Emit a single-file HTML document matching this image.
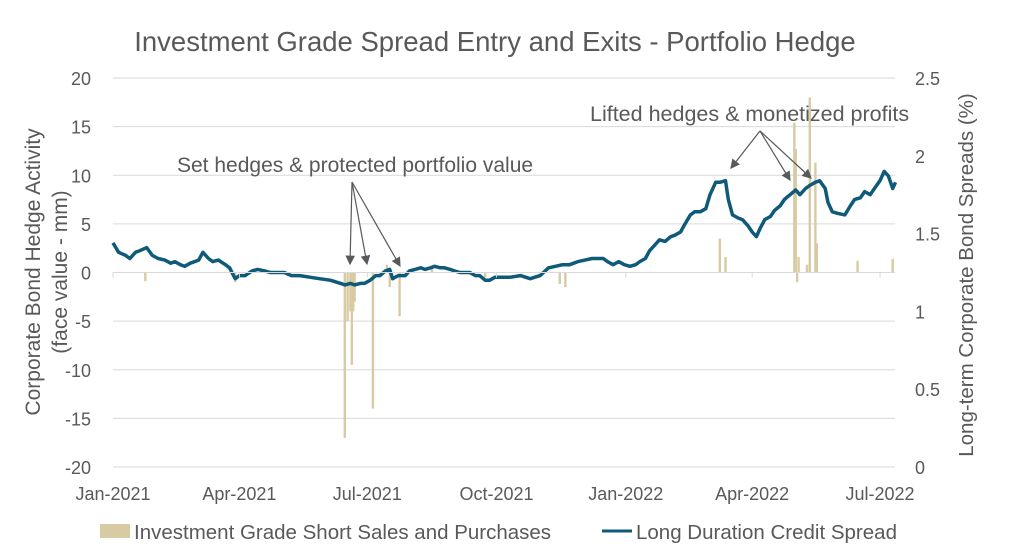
<!DOCTYPE html>
<html><head><meta charset="utf-8"><style>
body{margin:0;background:#fff;}
svg{display:block;font-family:"Liberation Sans",sans-serif;}
</style></head><body>
<svg id="chart" width="1025" height="556">
<text x="495" y="51" text-anchor="middle" font-size="27.5" fill="#595959">Investment Grade Spread Entry and Exits - Portfolio Hedge</text>
<g id="grid"></g><g id="bars"></g><g id="line"></g><g id="axes"></g>
<text transform="translate(40,272) rotate(-90)" text-anchor="middle" font-size="21" fill="#595959">Corporate Bond Hedge Activity</text>
<text transform="translate(67,272) rotate(-90)" text-anchor="middle" font-size="21" fill="#595959">(face value - mm)</text>
<text transform="translate(973,275) rotate(-90)" text-anchor="middle" font-size="20.5" fill="#595959">Long-term Corporate Bond Spreads (%)</text>
<g>
<text x="177" y="172" font-size="21" fill="#595959">Set hedges &amp; protected portfolio value</text>
</g>
<g>
<text x="590" y="121" font-size="21.5" fill="#595959">Lifted hedges &amp; monetized profits</text>
</g>
<defs><marker id="ah" markerWidth="8" markerHeight="8" refX="7" refY="4" orient="auto"><path d="M0,0L8,4L0,8z" fill="#595959"/></marker></defs>
<g stroke="#595959" stroke-width="1.2" marker-end="url(#ah)">
<line x1="352" y1="182" x2="350" y2="264"/><line x1="352" y1="182" x2="367" y2="264"/><line x1="352" y1="182" x2="400" y2="266"/>
<line x1="760" y1="131" x2="731" y2="168"/><line x1="760" y1="131" x2="790" y2="180"/><line x1="760" y1="131" x2="811" y2="178"/>
</g>
<g>
<rect x="100" y="524" width="30" height="14" fill="#d8cba4"/>
<text x="134" y="539" font-size="20.5" fill="#595959">Investment Grade Short Sales and Purchases</text>
<line x1="602" y1="531" x2="632" y2="531" stroke="#0f5a78" stroke-width="3"/>
<text x="636" y="539" font-size="20.5" fill="#595959">Long Duration Credit Spread</text>
</g>
</svg>
<script>
const leftTicks=[20,15,10,5,0,-5,-10,-15,-20];
const rightTicks=["2.5","2","1.5","1","0.5","0"];
const xLabels=["Jan-2021","Apr-2021","Jul-2021","Oct-2021","Jan-2022","Apr-2022","Jul-2022"];
const xLabelDays=[0,90,181,273,365,455,546];
const barDays=[23,87,165,167,169,170,171,172,185,195,197,204,227,265,318,322,432,436,485,486,487,488,494,496,500,501,530,555];
const barValues=[-0.9,-1,-17,-5,-4,-9.5,-4,-3,-14,0.8,-1.5,-4.5,0.7,-0.5,-1.2,-1.5,3.5,1.6,15.4,12.7,-1,1.6,0.8,18,11.3,3,1.2,1.4];
const lineDays=[0,4,9,12,16,19,24,28,32,37,41,44,48,51,55,61,64,68,71,75,80,83,87,90,94,99,103,108,112,117,122,127,133,140,147,155,162,165,169,172,176,179,183,187,190,194,197,199,203,208,211,215,219,222,226,229,233,236,240,243,247,251,254,258,261,265,268,272,276,283,290,297,304,310,315,320,325,331,336,341,345,349,352,356,360,364,368,372,375,379,382,386,389,393,397,400,404,407,411,414,418,422,425,429,432,436,438,441,445,448,452,455,458,461,464,468,471,475,478,482,486,489,493,496,500,503,507,509,512,516,521,525,528,532,535,539,542,546,549,552,555,557];
const lineValues=[1.44,1.38,1.36,1.34,1.38,1.39,1.41,1.36,1.34,1.33,1.31,1.32,1.30,1.29,1.31,1.33,1.38,1.34,1.32,1.33,1.30,1.28,1.21,1.23,1.23,1.26,1.27,1.26,1.25,1.25,1.25,1.23,1.23,1.22,1.21,1.20,1.18,1.17,1.18,1.17,1.18,1.18,1.20,1.23,1.23,1.26,1.27,1.21,1.23,1.23,1.26,1.27,1.28,1.27,1.28,1.29,1.28,1.28,1.27,1.26,1.25,1.25,1.25,1.23,1.23,1.20,1.20,1.22,1.22,1.22,1.23,1.21,1.23,1.28,1.29,1.30,1.30,1.32,1.33,1.34,1.34,1.34,1.32,1.30,1.32,1.30,1.29,1.30,1.32,1.34,1.39,1.43,1.46,1.45,1.48,1.49,1.51,1.56,1.62,1.64,1.64,1.66,1.75,1.83,1.83,1.84,1.72,1.62,1.60,1.59,1.55,1.51,1.48,1.54,1.59,1.61,1.65,1.68,1.72,1.75,1.78,1.75,1.79,1.81,1.83,1.84,1.79,1.70,1.64,1.63,1.62,1.68,1.72,1.73,1.77,1.75,1.79,1.84,1.90,1.87,1.79,1.83];
const NS="http://www.w3.org/2000/svg";
const X0=113,PXD=1.4048,YT=78,YB=467;
const xs=d=>X0+d*PXD;
const yl=v=>YT+(20-v)/40*(YB-YT);
const yr=v=>YB-v/2.5*(YB-YT);
function mk(t,p,a){const e=document.createElementNS(NS,t);for(const k in a)e.setAttribute(k,a[k]);p.appendChild(e);return e;}
const grid=document.getElementById('grid'),axes=document.getElementById('axes'),bars=document.getElementById('bars'),line=document.getElementById('line');
leftTicks.forEach(v=>{
 if(v!==0){const g=mk('line',grid,{x1:X0,x2:895,y1:yl(v),y2:yl(v),stroke:'#d9d9d9','stroke-width':1});
 
 }
 const t=mk('text',axes,{x:91,y:yl(v)+7,'text-anchor':'end','font-size':18,fill:'#595959'});t.textContent=v;
 
 
});
rightTicks.forEach(s=>{const t=mk('text',axes,{x:915,y:yr(+s)+7,'font-size':18,fill:'#595959'});t.textContent=s;
 
 });
const za=mk('line',axes,{x1:X0,x2:895,y1:yl(0),y2:yl(0),stroke:'#d9d9d9','stroke-width':1});


xLabels.forEach((s,i)=>{const x=xs(xLabelDays[i]);
 mk('line',axes,{x1:x,x2:x,y1:yl(0),y2:yl(0)+5,stroke:'#d9d9d9'});
 const t=mk('text',axes,{x:x,y:500,'text-anchor':'middle','font-size':18,fill:'#595959'});t.textContent=s;
 
 });
barDays.forEach((d,i)=>{const v=barValues[i],y0=yl(0),y1=yl(v);
 const r=mk('rect',bars,{x:xs(d)-1.2,y:Math.min(y0,y1),width:2.4,height:Math.abs(y1-y0),fill:'#d8cba4'});
 
 });
const pts=lineDays.map((d,i)=>xs(d).toFixed(1)+','+yr(lineValues[i]).toFixed(1)).join(' ');
const pl=mk('polyline',line,{points:pts,fill:'none',stroke:'#0f5a78','stroke-width':3.5,'stroke-linejoin':'round'});


</script>
</body></html>
